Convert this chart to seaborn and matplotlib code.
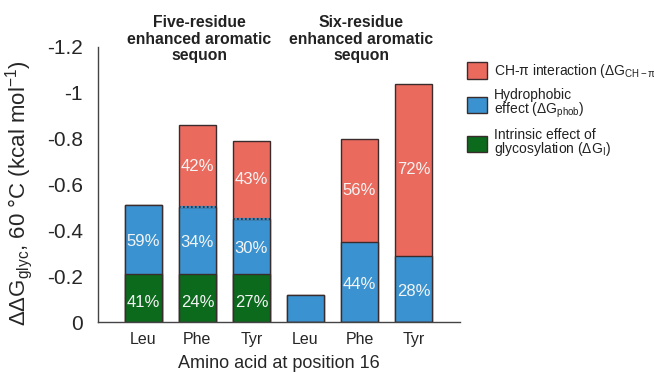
import numpy as np
import pandas as pd
import matplotlib
matplotlib.use("Agg")
import matplotlib.pyplot as plt
import matplotlib.transforms as mtransforms
from matplotlib.patches import Patch
from matplotlib.ticker import MultipleLocator, FuncFormatter
import seaborn as sns

# data (kcal/mol, negative = stabilising)
keys = ["Leu5", "Phe5", "Tyr5", "Leu6", "Phe6", "Tyr6"]
residues = ["Leu", "Phe", "Tyr", "Leu", "Phe", "Tyr"]
groups = ["five", "five", "five", "six", "six", "six"]
intrinsic = [-0.21, -0.21, -0.21, 0.0, 0.0, 0.0]
hydrophobic = [-0.30, -0.29, -0.24, -0.12, -0.35, -0.29]
ch_pi = [0.0, -0.36, -0.34, 0.0, -0.45, -0.75]
pct_intrinsic = ["41%", "24%", "27%", "", "", ""]
pct_hydrophobic = ["59%", "34%", "30%", "", "44%", "28%"]
pct_ch_pi = ["", "42%", "43%", "", "56%", "72%"]
group_titles = {"Phe5": "Five-residue\nenhanced aromatic\nsequon",
                "Phe6": "Six-residue\nenhanced aromatic\nsequon"}

RED = "#ea6a5e"
BLUE = "#3a93d0"
GREEN = "#0b6a1c"
EDGE = "#3a2c2c"

df = pd.DataFrame({"key": keys, "residue": residues, "group": groups,
                   "intrinsic": intrinsic, "hydrophobic": hydrophobic, "ch_pi": ch_pi})
df["lower"] = df["intrinsic"]
df["middle"] = df["intrinsic"] + df["hydrophobic"]
df["total"] = df["middle"] + df["ch_pi"]

sns.set_style("white")
plt.rcParams["font.family"] = ["Liberation Sans", "DejaVu Sans"]
plt.rcParams["mathtext.fontset"] = "custom"
plt.rcParams["mathtext.rm"] = "Liberation Sans"
plt.rcParams["mathtext.it"] = "Liberation Sans"

fig = plt.figure(figsize=(6.54, 3.72), dpi=100)
ax = fig.add_axes([98 / 654, 50 / 372, 362 / 654, 275 / 372])

bar_kw = dict(order=keys, errorbar=None, saturation=1, width=0.68,
              edgecolor=EDGE, linewidth=1, ax=ax)
# layered cumulative bars: total (red) -> intrinsic+hydrophobic (blue) -> intrinsic (green)
sns.barplot(data=df, x="key", y="total", color=RED, **bar_kw)
sns.barplot(data=df, x="key", y="middle", color=BLUE, **bar_kw)
sns.barplot(data=df, x="key", y="lower", color=GREEN, **bar_kw)

# dotted boundary between hydrophobic and CH-pi in the five-residue group
w = 0.68
for i, row in df.iterrows():
    if row["group"] == "five" and row["ch_pi"] != 0:
        ax.hlines(row["middle"], i - w / 2 + 0.01, i + w / 2 - 0.01, color=BLUE, lw=1.6, zorder=5)
        ax.hlines(row["middle"], i - w / 2, i + w / 2, color=EDGE, lw=1.3,
                  linestyles=(0, (1, 1.2)), zorder=6)

# percentage labels in the middle of each segment (green ones sit a bit low)
for i, row in df.iterrows():
    segs = [(0, row["lower"], pct_intrinsic[i], 0.02),
            (row["lower"], row["middle"], pct_hydrophobic[i], 0.01),
            (row["middle"], row["total"], pct_ch_pi[i], 0.0)]
    for lo, hi, txt, shift in segs:
        if txt:
            ax.text(i, (lo + hi) / 2 + shift, txt, ha="center", va="center",
                    fontsize=12, color="#f4f4f4", zorder=7)

ax.set_xlim(-0.84, 5.86)
ax.set_ylim(0, -1.2)
ax.yaxis.set_major_locator(MultipleLocator(0.2))
ax.yaxis.set_minor_locator(MultipleLocator(0.1))
ax.yaxis.set_major_formatter(FuncFormatter(lambda v, p: f"{round(v, 1) + 0:g}"))
ax.tick_params(axis="y", which="both", direction="in", length=5, width=1,
               color="#444444", labelsize=15, pad=11)
ax.tick_params(axis="x", length=0, labelsize=11.5, pad=7)
ax.set_xticks(range(len(residues)))
ax.set_xticklabels(residues)

sns.despine(ax=ax)
for s in ["left", "bottom"]:
    ax.spines[s].set_color("#444444")
    ax.spines[s].set_linewidth(1)

ax.set_xlabel("Amino acid at position 16", fontsize=13, labelpad=6)
ax.set_ylabel(r"ΔΔG$_{\mathregular{glyc}}$, 60 °C (kcal mol$^{\mathregular{-1}}$)", fontsize=16)
ax.yaxis.set_label_coords(-0.175, 0.47)

trans = mtransforms.blended_transform_factory(ax.transData, ax.transAxes)
for k, title in group_titles.items():
    ax.text(keys.index(k) + 0.03, 1.028, title, transform=trans, ha="center", va="center",
            fontsize=11.3, fontweight="bold", linespacing=1.12, color="#222222", clip_on=False)

handles = [Patch(facecolor=RED, edgecolor=EDGE, lw=1),
           Patch(facecolor=BLUE, edgecolor=EDGE, lw=1),
           Patch(facecolor=GREEN, edgecolor=EDGE, lw=1)]
labels = [r"CH-π interaction (ΔG$_{\mathregular{CH-π}}$)",
          "Hydrophobic\n" + r"effect (ΔG$_{\mathregular{phob}}$)",
          "Intrinsic effect of\n" + r"glycosylation (ΔG$_{\mathregular{I}}$)"]
leg = ax.legend(handles, labels, loc="upper left", bbox_to_anchor=(467 / 654, 1 - 62 / 372),
                bbox_transform=fig.transFigure, frameon=False, fontsize=10,
                handlelength=1.43, handleheight=1.43, handletextpad=0.5,
                labelspacing=0.6, borderaxespad=0, borderpad=0)
for t in leg.get_texts():
    t.set_linespacing(0.85)
    t.set_color("#222222")

fig.savefig("out.png", dpi=100)
